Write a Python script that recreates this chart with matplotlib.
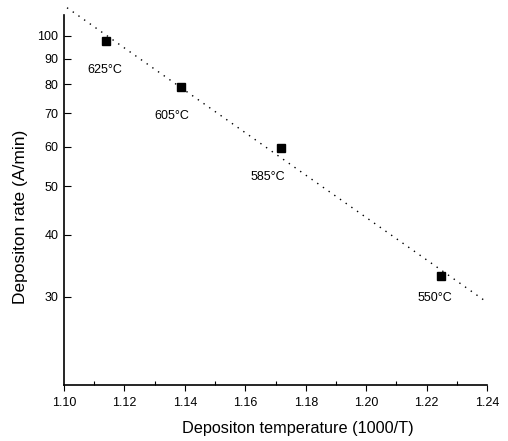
import numpy as np
import matplotlib
matplotlib.use("Agg")
import matplotlib.pyplot as plt
from matplotlib.ticker import FixedLocator, MultipleLocator, NullFormatter

plt.rcParams['font.family'] = ['Liberation Sans', 'DejaVu Sans']

# Deposition rate vs inverse temperature
inv_temp = [1.1139, 1.1387, 1.1718, 1.2248]
rate = [97.7, 79.1, 59.7, 33.1]
temp_labels = ["625°C", "605°C", "585°C", "550°C"]

y_ticks = [30, 40, 50, 60, 70, 80, 90, 100]
x_ticks = [1.10, 1.12, 1.14, 1.16, 1.18, 1.20, 1.22, 1.24]

fig = plt.figure(figsize=(5.08, 4.41), dpi=100)
ax = fig.add_axes([0.126, 0.127, 0.833, 0.839])

# Arrhenius fit: straight line in log(rate) vs 1000/T
slope, intercept = np.polyfit(inv_temp, np.log10(rate), 1)
xf = np.linspace(1.101, 1.24, 200)
ax.plot(xf, 10 ** (intercept + slope * xf), color='black', lw=1.0,
        linestyle=(0, (1, 4)), clip_on=False)

ax.plot(inv_temp, rate, 's', color='black', markersize=5.5)

offsets = [(-1, -29), (-9, -29), (-13, -29), (-6, -22)]
for x, y, lab, (dx, dy) in zip(inv_temp, rate, temp_labels, offsets):
    ax.annotate(lab, (x, y), xytext=(dx * 0.72, dy * 0.72), textcoords='offset points',
                ha='center', va='center', fontsize=9)

ax.set_yscale('log')
ax.set_ylim(20, 110)
ax.set_xlim(1.10, 1.24)
ax.yaxis.set_major_locator(FixedLocator(y_ticks))
ax.yaxis.set_minor_locator(FixedLocator([]))
ax.yaxis.set_minor_formatter(NullFormatter())
ax.set_yticklabels([str(v) for v in y_ticks])
ax.set_xticks(x_ticks)
ax.set_xticklabels([f"{v:.2f}" for v in x_ticks])
ax.xaxis.set_minor_locator(MultipleLocator(0.01))

ax.tick_params(axis='y', which='major', direction='in', length=5, width=0.8,
               labelsize=9, pad=4)
ax.tick_params(axis='x', which='major', direction='out', length=4, width=0.8,
               labelsize=9, pad=5)
ax.tick_params(axis='x', which='minor', direction='in', length=3, width=0.8)

for side in ('top', 'right'):
    ax.spines[side].set_visible(False)
for side in ('left', 'bottom'):
    ax.spines[side].set_linewidth(1.2)

ax.set_xlabel("Depositon temperature (1000/T)", fontsize=11.7)
ax.set_ylabel("Depositon rate (A/min)", fontsize=12.5)
ax.xaxis.set_label_coords(0.553, -0.097)
ax.yaxis.set_label_coords(-0.086, 0.454)

fig.savefig("out.png", dpi=100)
